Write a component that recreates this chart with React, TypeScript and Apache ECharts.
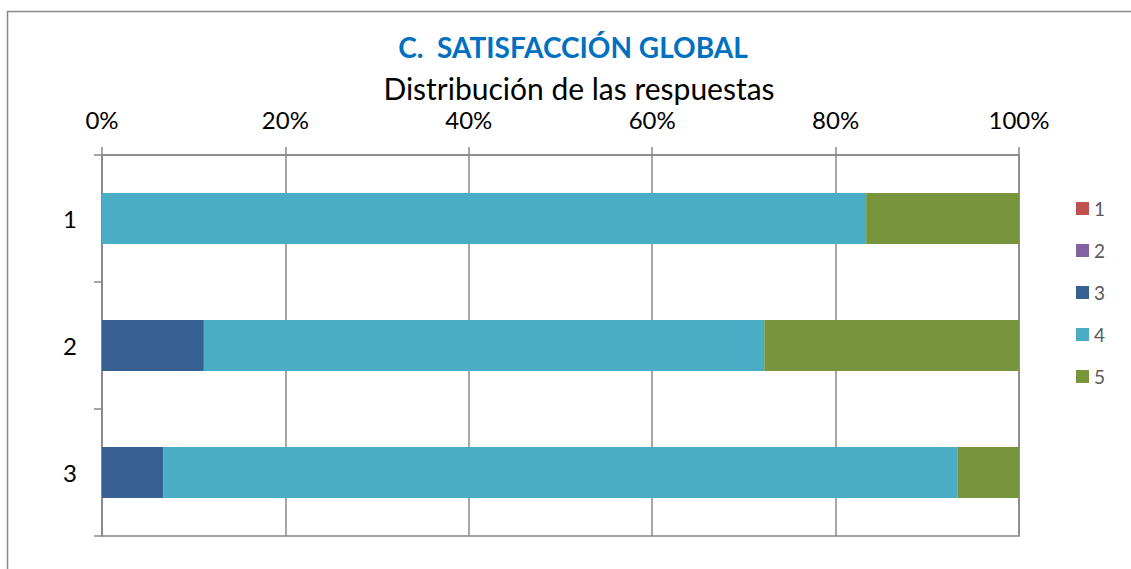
import React, { useEffect, useRef } from "react";
import * as echarts from "echarts";

const categories = ["1", "2", "3"];
const seriesNames = ["1", "2", "3", "4", "5"];
const values1 = [0, 0, 0];
const values2 = [0, 0, 0];
const values3 = [0, 11.11, 6.67];
const values4 = [83.33, 61.11, 86.66];
const values5 = [16.67, 27.78, 6.67];
const colors = ["#C0504D", "#8064A2", "#376092", "#4BACC6", "#77933C"];
const axisTicks = [0, 20, 40, 60, 80, 100];

const FONT = "Lato, 'Open Sans', sans-serif";
const LINE = "#888888";

export default function App() {
  const ref = useRef<HTMLDivElement>(null);
  useEffect(() => {
    if (!ref.current) return;
    const chart = echarts.init(ref.current, undefined, { renderer: "svg" });
    const all = [values1, values2, values3, values4, values5];
    chart.setOption({
      animation: false,
      backgroundColor: "#ffffff",
      textStyle: { fontFamily: FONT },
      title: [
        {
          text: "C.  SATISFACCIÓN GLOBAL",
          left: 568,
          top: 28,
          textAlign: "center",
          textStyle: { fontSize: 28, fontWeight: "bold", color: "#0070C0", fontFamily: FONT },
        },
        {
          text: "Distribución de las respuestas",
          left: 574,
          top: 68,
          textAlign: "center",
          textStyle: { fontSize: 30, lineHeight: 30, fontWeight: "normal", color: "#000000", fontFamily: FONT },
        },
      ],
      graphic: [
        {
          type: "rect",
          shape: { x: 7.5, y: 11.5, width: 1200, height: 700 },
          style: { fill: "none", stroke: LINE, lineWidth: 1.5 },
          silent: true,
        },
      ],
      legend: {
        orient: "vertical",
        left: 1071,
        top: 194,
        itemWidth: 13,
        itemHeight: 13,
        itemGap: 23,
        icon: "rect",
        data: seriesNames,
        textStyle: { fontSize: 19, color: "#595959", fontFamily: FONT },
      },
      grid: {
        left: 102,
        top: 155,
        width: 917,
        height: 381,
        show: true,
        borderColor: LINE,
        borderWidth: 1.5,
        containLabel: false,
      },
      xAxis: {
        type: "value",
        position: "top",
        min: axisTicks[0],
        max: axisTicks[axisTicks.length - 1],
        interval: 20,
        axisLine: { show: true, lineStyle: { color: LINE, width: 1.5 } },
        axisTick: { show: true, length: 8, lineStyle: { color: LINE, width: 1.5 } },
        splitLine: { show: true, lineStyle: { color: LINE, width: 1.5 } },
        axisLabel: {
          formatter: "{value}%",
          fontSize: 24,
          lineHeight: 24,
          color: "#000000",
          margin: 24,
          fontFamily: FONT,
        },
      },
      yAxis: {
        type: "category",
        data: categories,
        inverse: true,
        axisLine: { show: true, lineStyle: { color: LINE, width: 1.5 } },
        axisTick: { show: true, length: 8, lineStyle: { color: LINE, width: 1.5 } },
        axisLabel: { fontSize: 24, color: "#000000", margin: 25, fontFamily: FONT },
      },
      series: seriesNames.map((name, i) => ({
        name,
        type: "bar",
        stack: "total",
        data: all[i],
        barCategoryGap: "60%",
        itemStyle: { color: colors[i] },
      })),
    });
    return () => chart.dispose();
  }, []);
  return (
    <div
      ref={ref}
      style={{ position: "absolute", left: 0, top: 0, width: 1131, height: 569, background: "#fff" }}
    />
  );
}
